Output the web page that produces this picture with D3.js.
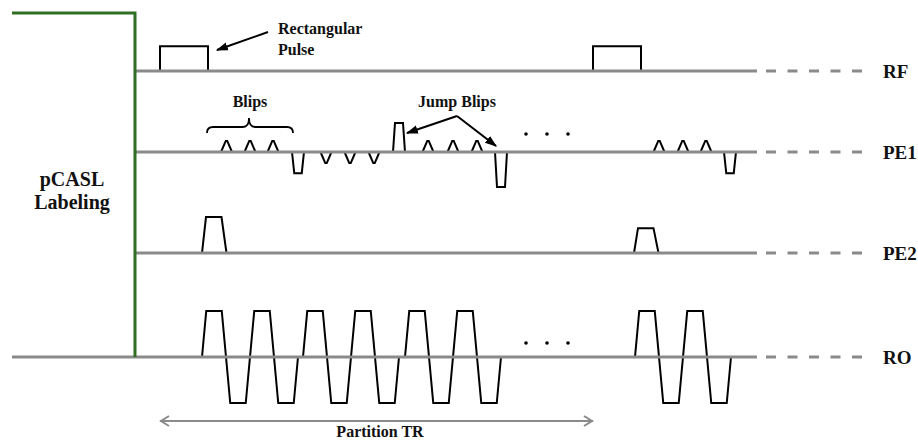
<!DOCTYPE html>
<html>
<head>
<meta charset="utf-8">
<script src="https://cdn.jsdelivr.net/npm/d3@7"></script>
<style>
  html, body { margin: 0; padding: 0; background: #fff; }
  svg { display: block; }
  text { font-family: "Liberation Serif", "Times New Roman", serif; font-weight: bold; fill: #111; }
</style>
</head>
<body>
<svg id="chart" width="918" height="441"></svg>
<script>
// ---- Sequence data (time in arbitrary units, amplitude normalised to the readout lobe) ----
const channels = ["RF", "PE1", "PE2", "RO"];

// RF: rectangular excitation pulses
const rfPulseStarts = [25, 458];
const rfPulseWidth = 48;
const rfAmplitude = 0.54;

// PE1: small positive blips (triangular)
const pe1UpBlips = [91.5, 115, 138, 293, 318, 342, 524, 548, 571];
// PE1: small negative blips
const pe1DownBlips = [191, 215, 239];
const pe1BlipAmplitude = 0.24;
// PE1: negative rewinder trapezoids
const pe1RewinderStarts = [157, 589];
const pe1RewinderAmplitude = -0.46;
// PE1: jump blips
const jumpBlips = [
  { start: 258, amplitude: 0.63 },
  { start: 360, amplitude: -0.76 }
];

// PE2: partition encoding trapezoids
const pe2Starts = [67, 499];
const pe2Amplitudes = [0.78, 0.54];

// RO: bipolar readout trains (each train = these lobes)
const roTrainStarts = [67, 168, 270, 500];
const roLobes = [1, -1, 1, -1];

// Continuation dots (time positions)
const dotTimes = [391, 412, 433];

// Partition TR span (from first to second RF pulse)
const partitionTR = [25, 458];

// ---- Layout ----
const svg = d3.select("#chart");
const x = d3.scaleLinear().domain([0, 622]).range([135, 757]);
const amp = d3.scaleLinear().domain([0, 1]).range([0, 46]);
const baseY = { RF: 71, PE1: 152, PE2: 253, RO: 357 };
const yOf = (ch, a) => baseY[ch] - amp(a);

const gray = "#8a8a8a";
const line = d3.line();

// Trapezoid helper (ramp, flat in time units)
function trapezoid(t0, ramp, flat, a, rampDown) {
  const rd = rampDown === undefined ? ramp : rampDown;
  return [[t0, 0], [t0 + ramp, a], [t0 + ramp + flat, a], [t0 + ramp + flat + rd, 0]];
}

// Readout train helper
function readoutTrain(t0) {
  const half = 4.25, flat = 15.5, ramp = 8.5;
  const pts = [[t0, 0]];
  let t = t0 + half;
  roLobes.forEach((a, i) => {
    pts.push([t, a]);
    t += flat;
    pts.push([t, a]);
    t += (i < roLobes.length - 1) ? ramp : half;
  });
  pts.push([t, 0]);
  return pts;
}

// Collect waveform shapes per channel
const shapes = [];
rfPulseStarts.forEach(t0 => shapes.push({ ch: "RF", pts: [[t0, 0], [t0, rfAmplitude], [t0 + rfPulseWidth, rfAmplitude], [t0 + rfPulseWidth, 0]] }));
pe1UpBlips.forEach(c => shapes.push({ ch: "PE1", pts: trapezoid(c - 5.5, 4.75, 1.5, pe1BlipAmplitude) }));
pe1DownBlips.forEach(c => shapes.push({ ch: "PE1", pts: trapezoid(c - 5.5, 4.75, 1.5, -pe1BlipAmplitude) }));
pe1RewinderStarts.forEach(t0 => shapes.push({ ch: "PE1", pts: trapezoid(t0, 2.25, 7.5, pe1RewinderAmplitude) }));
jumpBlips.forEach(j => shapes.push({ ch: "PE1", pts: trapezoid(j.start, 2, 8, j.amplitude) }));
pe2Starts.forEach((t0, i) => shapes.push({ ch: "PE2", pts: trapezoid(t0, 4, 15.5, pe2Amplitudes[i], 5) }));
roTrainStarts.forEach(t0 => shapes.push({ ch: "RO", pts: readoutTrain(t0) }));

// Waveforms
svg.append("g")
  .selectAll("path")
  .data(shapes)
  .join("path")
  .attr("d", s => line(s.pts.map(p => [x(p[0]), yOf(s.ch, p[1])])))
  .attr("fill", "none")
  .attr("stroke", "#000")
  .attr("stroke-width", 2)
  .attr("stroke-linejoin", "miter");

// Channel baselines (solid), extensions (dashed) and labels
const axes = svg.append("g");
channels.forEach(ch => {
  const x0 = ch === "RO" ? 12 : x(0);
  axes.append("line")
    .attr("x1", x0).attr("x2", x(622))
    .attr("y1", baseY[ch]).attr("y2", baseY[ch])
    .attr("stroke", gray).attr("stroke-width", 3);
  axes.append("line")
    .attr("x1", 766).attr("x2", 862)
    .attr("y1", baseY[ch]).attr("y2", baseY[ch])
    .attr("stroke", gray).attr("stroke-width", 3)
    .attr("stroke-dasharray", "10 11.5");
  axes.append("text")
    .attr("x", 883).attr("y", baseY[ch] + 7)
    .attr("font-size", 19)
    .text(ch);
});

// pCASL labeling block
svg.append("path")
  .attr("d", `M12,13 H${x(0)} V${baseY.RO}`)
  .attr("fill", "none")
  .attr("stroke", "#2f6e23")
  .attr("stroke-width", 3);
svg.append("text").attr("x", 72).attr("y", 186).attr("text-anchor", "middle").attr("font-size", 20).text("pCASL");
svg.append("text").attr("x", 72).attr("y", 209).attr("text-anchor", "middle").attr("font-size", 20).text("Labeling");

// Continuation dots
const dots = svg.append("g");
dotTimes.forEach(t => {
  dots.append("circle").attr("cx", x(t)).attr("cy", baseY.PE1 - 18).attr("r", 1.8).attr("fill", "#000");
  dots.append("circle").attr("cx", x(t)).attr("cy", baseY.RO - 14).attr("r", 1.8).attr("fill", "#000");
});

// Annotation arrows
const defs = svg.append("defs");
defs.append("marker")
  .attr("id", "arrowhead")
  .attr("viewBox", "0 0 10 10")
  .attr("refX", 9).attr("refY", 5)
  .attr("markerWidth", 6).attr("markerHeight", 6)
  .attr("orient", "auto-start-reverse")
  .attr("markerUnits", "strokeWidth")
  .append("path")
  .attr("d", "M0,1.5 L10,5 L0,8.5 Z")
  .attr("fill", "#000");

function arrow(x1, y1, x2, y2) {
  svg.append("line")
    .attr("x1", x1).attr("y1", y1).attr("x2", x2).attr("y2", y2)
    .attr("stroke", "#000").attr("stroke-width", 2)
    .attr("marker-end", "url(#arrowhead)");
}

// "Rectangular Pulse"
svg.append("text").attr("x", 278).attr("y", 34).attr("font-size", 16).text("Rectangular");
svg.append("text").attr("x", 278).attr("y", 55).attr("font-size", 16).text("Pulse");
arrow(268, 32, x(rfPulseStarts[0] + rfPulseWidth) + 9, 50);

// "Blips" with brace
svg.append("text").attr("x", 250).attr("y", 107).attr("text-anchor", "middle").attr("font-size", 16).text("Blips");
svg.append("path")
  .attr("d", "M207,133 Q207,127 213,127 L243,127 Q249,127 249,118 Q249,127 255,127 L287,127 Q293,127 293,133")
  .attr("fill", "none").attr("stroke", "#000").attr("stroke-width", 1.8);

// "Jump Blips"
svg.append("text").attr("x", 457).attr("y", 107).attr("text-anchor", "middle").attr("font-size", 16).text("Jump Blips");
arrow(457, 116, x(jumpBlips[0].start) + 14, 133);
arrow(457, 116, x(jumpBlips[1].start) + 1, 146);

// Partition TR double arrow
const trY = 421;
const tr = svg.append("g").attr("stroke", gray).attr("stroke-width", 2).attr("fill", "none");
tr.append("line").attr("x1", x(partitionTR[0])).attr("x2", x(partitionTR[1])).attr("y1", trY).attr("y2", trY);
tr.append("path").attr("d", `M${x(partitionTR[0]) + 9},${trY - 5} L${x(partitionTR[0]) + 1},${trY} L${x(partitionTR[0]) + 9},${trY + 5}`);
tr.append("path").attr("d", `M${x(partitionTR[1]) - 9},${trY - 5} L${x(partitionTR[1]) - 1},${trY} L${x(partitionTR[1]) - 9},${trY + 5}`);
svg.append("text").attr("x", 380).attr("y", 437).attr("text-anchor", "middle").attr("font-size", 16).text("Partition TR");
</script>
</body>
</html>
